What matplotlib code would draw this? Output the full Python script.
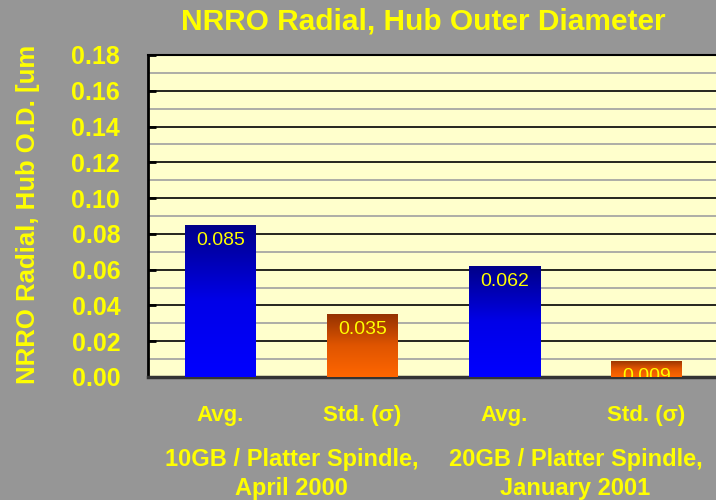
import numpy as np
import matplotlib
matplotlib.use("Agg")
import matplotlib.pyplot as plt
from matplotlib.colors import LinearSegmentedColormap

# ---- data ----
bar_labels = ["Avg.", "Std. (\u03c3)", "Avg.", "Std. (\u03c3)"]
values = [0.085, 0.035, 0.062, 0.009]
value_texts = ["0.085", "0.035", "0.062", "0.009"]
group_labels = ["10GB / Platter Spindle,\nApril 2000", "20GB / Platter Spindle,\nJanuary 2001"]
y_ticks = [0.00, 0.02, 0.04, 0.06, 0.08, 0.10, 0.12, 0.14, 0.16, 0.18]
title = "NRRO Radial, Hub Outer Diameter"
ylabel = "NRRO Radial, Hub O.D. [um"

YEL = "#FFFF00"
BG = "#969696"
PLOT_BG = "#FFFFCC"

blue_cmap = LinearSegmentedColormap.from_list("b", ["#0000FF", "#0000E8", "#000088"])
orange_cmap = LinearSegmentedColormap.from_list("o", ["#FF6600", "#E05500", "#943200"])
cmaps = [blue_cmap, orange_cmap, blue_cmap, orange_cmap]

fig = plt.figure(figsize=(7.16, 5.0), dpi=100, facecolor=BG)
ax = fig.add_axes([148/716, 123/500, (716-148)/716, (377-55)/500])
ax.set_facecolor(PLOT_BG)

x = np.arange(len(values))

# grid
for yv in np.arange(0.01, 0.18, 0.02):
    ax.axhline(yv, color="#A0A0A0", lw=1.2, zorder=1)
for yv in y_ticks[1:]:
    ax.axhline(yv, color="#000000", lw=1.2, zorder=1)

bars = ax.bar(x, values, width=0.5, color="none", edgecolor="none", zorder=2)
grad = np.linspace(0, 1, 256).reshape(-1, 1)
for b, cm in zip(bars, cmaps):
    x0 = b.get_x(); w = b.get_width(); h = b.get_height()
    im = ax.imshow(grad, cmap=cm, extent=(x0, x0 + w, 0, h), origin="lower",
                   aspect="auto", zorder=3, interpolation="bilinear")
    im.set_clip_path(b)

ax.set_xlim(-0.51, 3.49)
ax.set_ylim(0, 0.18)

for xi, v, t in zip(x, values, value_texts):
    ax.annotate(t, (xi, v), xytext=(0, -5), textcoords="offset points",
                ha="center", va="top", color=YEL, fontsize=14,
                family="Liberation Sans", zorder=5, annotation_clip=False, clip_on=True)

ax.set_yticks(y_ticks)
ax.set_yticklabels([f"{v:.2f}" for v in y_ticks], color=YEL, fontsize=18,
                   fontweight="bold", family="Liberation Sans")
ax.tick_params(axis="y", direction="in", length=6, width=2, color="black", pad=20)

ax.set_xticks(x)
ax.set_xticklabels(bar_labels, color=YEL, fontsize=16, fontweight="bold",
                   family=["Liberation Sans Narrow", "Liberation Sans", "DejaVu Sans"])
ax.tick_params(axis="x", length=0, pad=20)

for gi, gl in enumerate(group_labels):
    ax.text(2 * gi + 0.5, -0.22, gl, transform=ax.get_xaxis_transform(),
            ha="center", va="top", color=YEL, fontsize=17, fontweight="bold",
            family=["Liberation Sans Narrow", "Liberation Sans"], linespacing=1.35)

ax.spines["right"].set_visible(False)
ax.spines["left"].set_color("black"); ax.spines["left"].set_linewidth(2)
ax.spines["top"].set_color("black"); ax.spines["top"].set_linewidth(1.5)
ax.spines["bottom"].set_color("#333333"); ax.spines["bottom"].set_linewidth(2.5)

fig.text(423/716, 1 - 21/500, title, ha="center", va="center", color=YEL,
         fontsize=21.5, fontweight="bold", family="Liberation Sans")
fig.text(28/716, 1 - 214/500, ylabel, ha="center", va="center", rotation=90,
         color=YEL, fontsize=18.5, fontweight="bold", family="Liberation Sans")

fig.savefig("out.png", dpi=100, facecolor=BG)
